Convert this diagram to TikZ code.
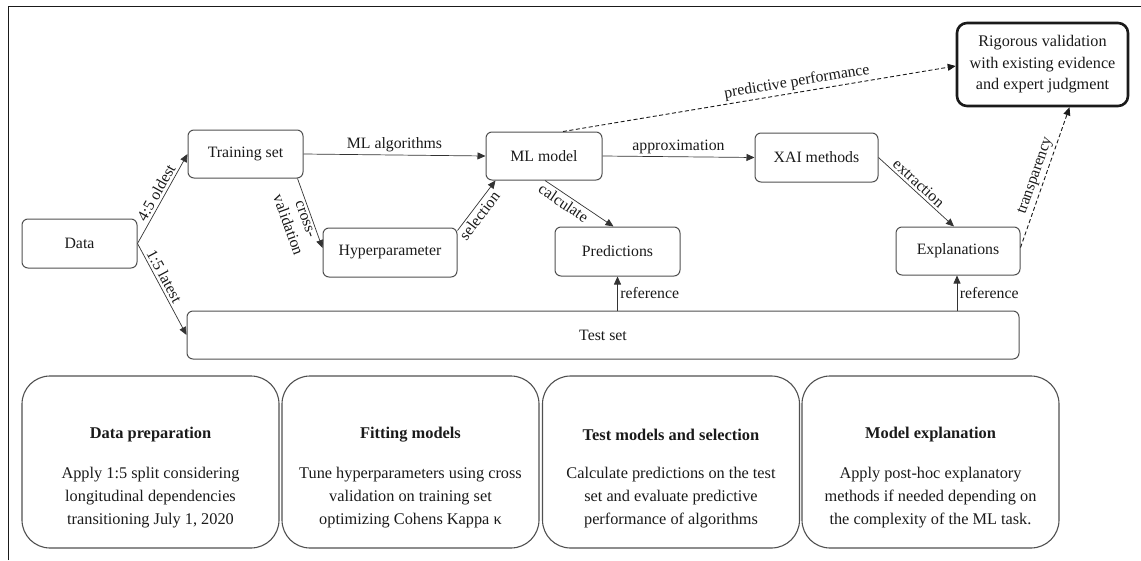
\documentclass[tikz,border=0pt]{standalone}
\usepackage{fontspec}
\setmainfont{Liberation Serif}
\usetikzlibrary{calc,arrows.meta}
\definecolor{boxgray}{HTML}{505050}
\definecolor{linegray}{HTML}{333333}
\definecolor{inkblack}{HTML}{1A1A1A}
\begin{document}
\begin{tikzpicture}[x=1pt,y=-1pt,
  font=\rmfamily\fontsize{15.8}{18}\selectfont, text=inkblack,
  box/.style={draw=boxgray,line width=1pt,rounded corners=6pt,inner sep=0pt,align=center},
  keybox/.style={draw=inkblack,line width=2.6pt,rounded corners=10pt,inner sep=0pt,align=center,
    font=\rmfamily\fontsize{16.2}{21.5}\selectfont},
  stagebox/.style={draw=boxgray,line width=1.1pt,rounded corners=28pt,inner sep=0pt,
    minimum width=257pt,minimum height=172pt},
  stagetitle/.style={font=\rmfamily\fontsize{16.4}{18}\selectfont\bfseries,inner sep=0pt},
  stagetext/.style={font=\rmfamily\fontsize{16.3}{23}\selectfont,align=center,inner sep=0pt,anchor=north},
  arr/.style={draw=linegray,line width=0.7pt,-{Triangle[length=8pt,width=7pt]}},
  dasharr/.style={arr,draw=inkblack,dash pattern=on 4pt off 2.5pt,line width=0.9pt},
  lbl/.style={inner sep=2.5pt,text=inkblack},
  frameline/.style={draw=inkblack,line width=1pt}
]
\useasboundingbox (0,0) rectangle (1141,560);

% frame
\draw[frameline] (8,560) -- (8,6) -- (1141,6);

% pipeline nodes
\node[box,minimum width=115pt,minimum height=49pt] (data)  at (79.5,243.5) {Data};
\node[box,minimum width=115pt,minimum height=48pt] (train) at (245.5,154)  {Training set};
\node[box,minimum width=134pt,minimum height=49pt] (hyper) at (390,252.5)  {Hyperparameter};
\node[box,minimum width=116pt,minimum height=48pt] (ml)    at (544,156)    {ML model};
\node[box,minimum width=125pt,minimum height=49pt] (pred)  at (617.5,251.5){Predictions};
\node[box,minimum width=123pt,minimum height=49pt] (xai)   at (816.5,157.5){XAI methods};
\node[box,minimum width=124pt,minimum height=48pt] (expl)  at (958,251)    {Explanations};
\node[keybox,minimum width=171pt,minimum height=83pt] (rig) at (1042.5,64.5)
  {Rigorous validation\\with existing evidence\\and expert judgment};
\node[box,minimum width=832pt,minimum height=48pt] (test) at (603,335) {Test set};

% free ends of the connectors
\coordinate (trainout) at ($(train.south east)+(-6,0)$);
\coordinate (hyperin)  at ($(hyper.west)+(0,-4.5)$);
\coordinate (hyperout) at ($(hyper.east)+(0,-22)$);
\coordinate (mlin)     at ($(ml.south west)+(10,0)$);
\coordinate (mlout)    at ($(ml.south)+(1,0)$);
\coordinate (predin)   at ($(pred.north)+(-4,0)$);
\coordinate (mltop)    at ($(ml.north)+(19,0)$);
\coordinate (rigin)    at ($(rig.west)+(0,1.5)$);
\coordinate (explin)   at ($(expl.north)+(-4,0)$);
\coordinate (explout)  at ($(expl.north east)+(0,21)$);
\coordinate (rigbot)   at ($(rig.south)+(27,0)$);
\coordinate (explbot)  at ($(expl.south)+(-1,0)$);

% connectors
\draw[arr] (data.east) -- node[lbl,sloped,above,pos=0.52]{4:5 oldest} (train.west);
\draw[arr] (data.east) -- node[lbl,sloped,above,pos=0.4]{1:5 latest} (test.west);
\draw[arr] (train.east) -- node[lbl,above,pos=0.5]{ML algorithms} (ml.west);
\draw[arr] (trainout) --
  node[lbl,sloped,below,pos=0.55,align=center,font=\rmfamily\fontsize{15.8}{19}\selectfont]{cross-\\validation}
  (hyperin);
\draw[arr] (hyperout) -- node[lbl,sloped,below,pos=0.4]{selection} (mlin);
\draw[arr] (mlout) -- node[lbl,sloped,below,pos=0.34]{calculate} (predin);
\draw[arr] (ml.east) -- node[lbl,above,pos=0.5]{approximation} (xai.west);
\draw[dasharr] (mltop) -- node[lbl,sloped,above,pos=0.6]{predictive performance} (rigin);
\draw[arr] (xai.east) -- node[lbl,sloped,above,pos=0.46]{extraction} (explin);
\draw[dasharr] (explout) -- node[lbl,sloped,above,pos=0.49]{transparency} (rigbot);
\draw[arr] (pred.south |- test.north) -- node[lbl,right,pos=0.5]{reference} (pred.south);
\draw[arr] (explbot |- test.north) -- node[lbl,right,pos=0.5]{reference} (explbot);

% stage summaries
\foreach \name/\cx/\title/\body in {
  prep/150.5/Data preparation/{Apply 1:5 split considering\\longitudinal dependencies\\transitioning July 1, 2020},
  fit/410.5/Fitting models/{Tune hyperparameters using cross\\validation on training set\\optimizing Cohens Kappa κ},
  sel/671/Test models and selection/{Calculate predictions on the test\\set and evaluate predictive\\performance of algorithms},
  expla/930.5/Model explanation/{Apply post-hoc explanatory\\methods if needed depending on\\the complexity of the ML task.}}{
  \node[stagebox] (\name) at (\cx,462) {};
  \node[stagetitle] (\name-title) at (\cx,435) {\title};
  \node[stagetext] (\name-text) at (\cx,467) {\body};
}
\end{tikzpicture}
\end{document}
